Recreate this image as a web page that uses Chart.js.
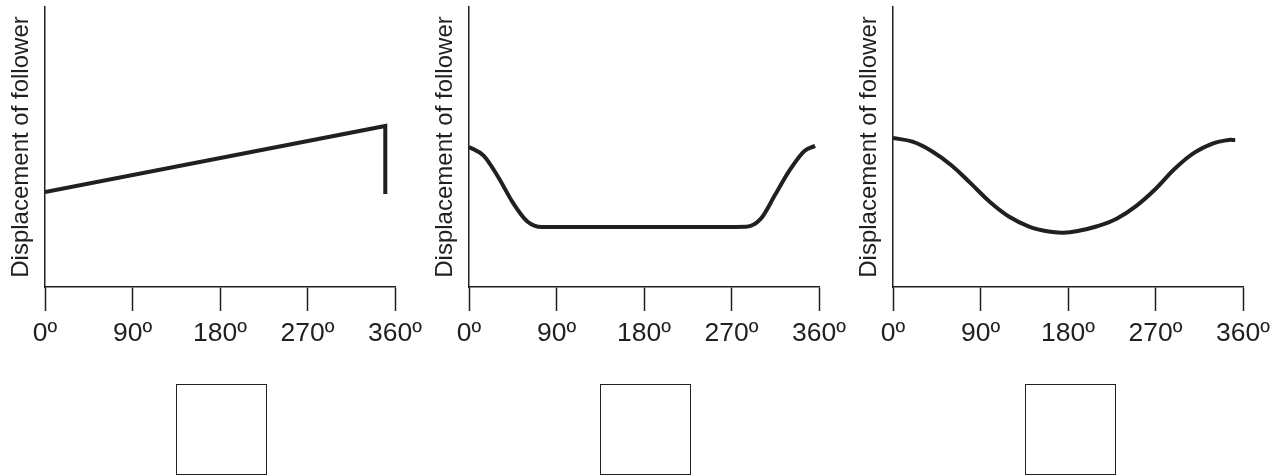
<!DOCTYPE html>
<html>
<head>
<meta charset="utf-8">
<script src="https://cdn.jsdelivr.net/npm/chart.js@4.4.1/dist/chart.umd.min.js"></script>
<style>
	body { margin: 0; background: #fff; width: 1280px; height: 476px; position: relative; overflow: hidden; }
	canvas { position: absolute; top: 0; }
	.box { position: absolute; top: 384px; width: 89px; height: 89px; border: 1.5px solid #231f20; }
</style>
</head>
<body>
<canvas id="c1" width="440" height="350" style="left:0px"></canvas>
<canvas id="c2" width="440" height="350" style="left:424px"></canvas>
<canvas id="c3" width="432" height="350" style="left:848px"></canvas>
<div class="box" style="left:176px"></div>
<div class="box" style="left:600px"></div>
<div class="box" style="left:1025px"></div>
<script>
// cam angle (degrees) and follower displacement (arbitrary units, 0-100)
const tickLabels = ['0º', '90º', '180º', '270º', '360º'];
const yTitle = 'Displacement of follower';

const angles1 = [0, 350, 350];
const disp1 = [33.9, 57.5, 33.2];

const angles2 = [0, 15, 30, 45, 60, 75, 100, 180, 260, 285, 300, 315, 330, 345, 356];
const disp2 = [50, 46.9, 39.3, 30.2, 23.4, 21.4, 21.4, 21.4, 21.4, 21.5, 24.3, 33, 41.8, 48.6, 50.4];

const angles3 = [0, 20, 40, 60, 80, 100, 120, 140, 160, 175, 190, 210, 230, 250, 270, 290, 310, 330, 345, 352];
const disp3 = [53.2, 51.9, 48.5, 43.5, 37, 30.3, 25, 21.6, 19.8, 19.4, 20, 21.7, 24.4, 28.9, 35, 42.3, 48, 51.4, 52.5, 52.5];

const ink = '#231f20';
const fontFamily = "'Liberation Sans', Arial, sans-serif";

function makeChart(id, angles, disp, mode, padRight) {
	let points = [];
	for(let i = 0; i < angles.length; i++) {
		points.push({x: angles[i], y: disp[i]});
	}
	let ctx = document.getElementById(id).getContext('2d');
	return new Chart(ctx, {
		type: 'line',
		data: {
			datasets: [{
				data: points,
				borderColor: ink,
				borderWidth: 4,
				pointRadius: 0,
				fill: false,
				borderJoinStyle: 'miter',
				cubicInterpolationMode: mode == 'monotone' ? 'monotone' : 'default',
				tension: mode == 'straight' ? 0 : 0.4,
			}],
		},
		options: {
			responsive: false,
			animation: false,
			layout: {padding: {top: 7, right: padRight, bottom: 0, left: 0}},
			plugins: {legend: {display: false}, tooltip: {enabled: false}},
			scales: {
				x: {
					type: 'linear',
					min: 0,
					max: 360,
					afterFit: function(scale) { scale.height = 63; },
					ticks: {
						stepSize: 90,
						color: ink,
						padding: 7,
						maxRotation: 0,
						font: {family: fontFamily, size: 26.5, lineHeight: 1.2},
						callback: function(value, index) { return tickLabels[index]; },
					},
					grid: {
						drawOnChartArea: false,
						drawTicks: true,
						tickLength: 24,
						tickColor: ink,
						tickWidth: 1.5,
					},
					border: {display: true, color: ink, width: 1.5},
				},
				y: {
					min: 0,
					max: 100,
					afterFit: function(scale) { scale.width = 45; },
					ticks: {display: false},
					grid: {display: false},
					border: {display: true, color: ink, width: 1.5},
					title: {
						display: true,
						text: yTitle,
						color: ink,
						padding: {top: 6.5, bottom: 0},
						font: {family: fontFamily, size: 24, lineHeight: 1.2},
					},
				},
			},
		},
	});
}

makeChart('c1', angles1, disp1, 'straight', 45);
makeChart('c2', angles2, disp2, 'monotone', 45);
makeChart('c3', angles3, disp3, 'spline', 37);
</script>
</body>
</html>
